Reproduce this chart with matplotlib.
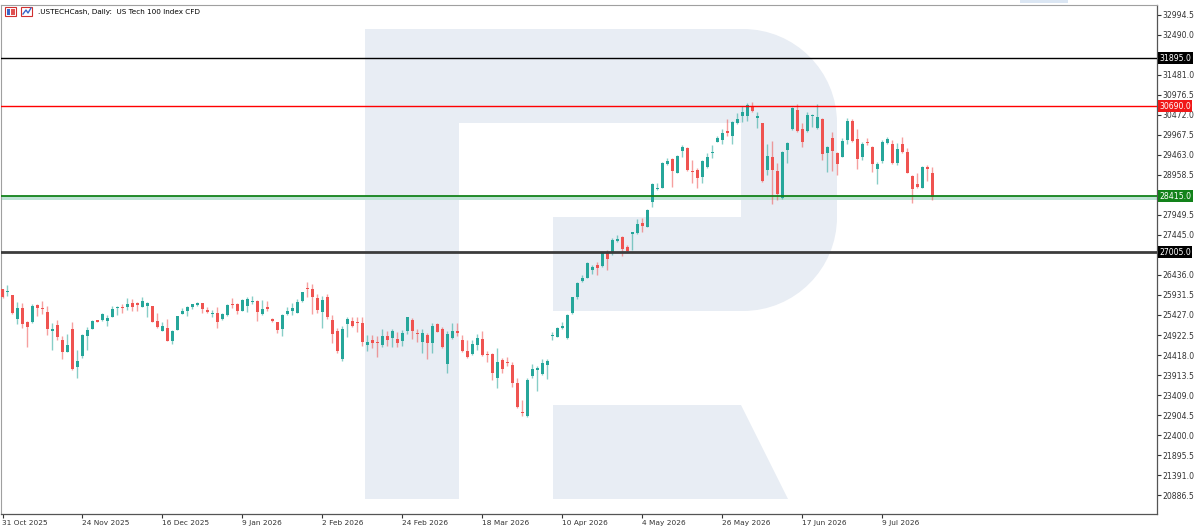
"""
Grafico diario .USTECHCash (velas) con niveles horizontales, estilo terminal MT5
"""
import numpy as np
import matplotlib.pyplot as plt
from matplotlib.path import Path
from matplotlib.patches import PathPatch, Polygon, Rectangle

# --- datos de velas ---
opens = [
    26074, 26015, 25931, 25326, 25612, 25259, 25242, 25679, 25612, 25511,
    25032, 25175, 24797, 24503, 25074, 24125, 24394, 24906, 25074, 25301,
    25301, 25284, 25385, 25603, 25620, 25620, 25738, 25721, 25637, 25662,
    25654, 25276, 25032, 25108, 24780, 25049, 25452, 25536, 25637, 25687,
    25721, 25553, 25444, 25486, 25318, 25427, 25704, 25704, 25536, 25654,
    25746, 25788, 25452, 25637, 25318, 25242, 25074, 25444, 25536, 25486,
    25788, 26116, 26074, 25847, 25511, 25889, 25301, 25032, 24318, 25192,
    25276, 25242, 25217, 24671, 24797, 24755, 24671, 24898, 24839, 24822,
    24780, 25024, 25301, 24982, 24755, 24923, 24730, 25200, 25066, 24192,
    24856, 25024, 24797, 24528, 24436, 24671, 24814, 24444, 24436, 23831,
    24293, 24234, 24167, 23722, 22991, 22890, 23890, 24041, 23940, 24167,
    24898, 24881, 25091, 24839, 25469, 25889, 26292, 26368, 26561, 26687,
    26662, 27006, 26981, 27300, 27401, 27149, 27460, 27502, 27737, 27653,
    28283, 28594, 28636, 29232, 29350, 29014, 29568, 29644, 29056, 29081,
    28896, 29148, 29501, 29795, 29837, 30064, 29946, 30257, 30450, 30450,
    30702, 30383, 30257, 29081, 29417, 29064, 28367, 29585, 30106, 30593,
    30106, 30064, 30450, 30131, 30358, 29518, 29879, 29501, 29417, 29837,
    30324, 29854, 29417, 29795, 29669, 29106, 29316, 29753, 29736, 29249,
    29728, 29526, 28938, 28728, 28636, 29148, 29014,
]
highs = [
    26080, 26183, 25940, 25763, 25738, 25276, 25696, 25696, 25780, 25662,
    25234, 25301, 24898, 24948, 25259, 24545, 24948, 25133, 25301, 25310,
    25469, 25427, 25662, 25662, 25696, 25864, 25830, 25746, 25872, 25763,
    25662, 25469, 25259, 25318, 25049, 25410, 25612, 25654, 25713, 25755,
    25730, 25637, 25553, 25637, 25469, 25696, 25847, 25721, 25830, 25889,
    25906, 25805, 25805, 25780, 25343, 25259, 25444, 25637, 25738, 25830,
    26015, 26250, 26200, 25948, 25906, 25948, 25427, 25091, 25150, 25385,
    25385, 25385, 25385, 24923, 24923, 24898, 25066, 25032, 25066, 25007,
    25049, 25385, 25343, 25066, 25066, 24965, 25217, 25217, 25133, 25032,
    25217, 25217, 24923, 24797, 24797, 24948, 25024, 24528, 24461, 24604,
    24335, 24360, 24251, 23831, 23285, 23831, 24184, 24142, 24318, 24310,
    25007, 25133, 25259, 25452, 25889, 26267, 26435, 26771, 26687, 26771,
    27023, 27065, 27359, 27443, 27418, 27191, 27527, 27838, 27863, 28090,
    28745, 28745, 29291, 29375, 29375, 29459, 29711, 29652, 29333, 29123,
    29333, 29501, 29711, 29938, 30106, 30358, 30316, 30509, 30694, 30761,
    30803, 30551, 30274, 29736, 29820, 29249, 29568, 29795, 30660, 30744,
    30257, 30551, 30484, 30744, 30383, 29686, 30030, 29543, 29896, 30383,
    30358, 30114, 29795, 29879, 29686, 29291, 29837, 29904, 29837, 29753,
    29904, 29644, 28955, 29014, 29182, 29207, 29148,
]
lows = [
    25865, 25914, 25452, 25200, 25108, 24629, 25234, 25402, 25444, 24923,
    24545, 24797, 24310, 24486, 24041, 23848, 24335, 24545, 25066, 25251,
    25284, 25158, 25368, 25427, 25469, 25553, 25536, 25528, 25630, 25368,
    25242, 25108, 25024, 24772, 24696, 25040, 25444, 25410, 25578, 25654,
    25486, 25486, 25385, 25099, 25301, 25410, 25595, 25444, 25528, 25494,
    25696, 25284, 25427, 25536, 25242, 24965, 24906, 25427, 25427, 25469,
    25763, 25889, 25444, 25469, 25091, 25326, 24713, 24461, 24268, 24881,
    25133, 25007, 24646, 24520, 24604, 24377, 24612, 24646, 24612, 24629,
    24646, 24948, 24822, 24755, 24461, 24318, 24461, 24990, 24587, 23974,
    24814, 24906, 24503, 24352, 24419, 24545, 24402, 24251, 23789, 23579,
    23957, 24142, 23604, 23092, 22882, 22865, 23831, 23512, 23915, 23814,
    24797, 24864, 25074, 24822, 25452, 25822, 26267, 26351, 26460, 26435,
    26645, 26561, 26939, 27275, 26914, 27023, 27065, 27468, 27527, 27636,
    28157, 28577, 28619, 29207, 28661, 28997, 29400, 29056, 28762, 28619,
    28745, 29123, 29392, 29778, 29728, 29946, 29736, 30232, 30299, 30324,
    30551, 30131, 28787, 28955, 28216, 28325, 28350, 29249, 30089, 30047,
    29669, 30047, 30173, 30114, 29333, 29039, 29064, 28955, 29400, 29736,
    29795, 29106, 29333, 29711, 29039, 28720, 29266, 29728, 29232, 29207,
    29518, 28997, 28258, 28619, 28619, 28812, 28325,
]
closes = [
    25872, 26040, 25469, 25612, 25200, 25116, 25662, 25612, 25570, 25083,
    25066, 24864, 24503, 24671, 24058, 24268, 24923, 25049, 25284, 25259,
    25452, 25360, 25570, 25637, 25595, 25704, 25637, 25671, 25788, 25738,
    25259, 25133, 25150, 24780, 25024, 25402, 25528, 25637, 25696, 25721,
    25570, 25511, 25469, 25242, 25444, 25679, 25687, 25536, 25805, 25830,
    25780, 25494, 25578, 25570, 25284, 25049, 25427, 25528, 25595, 25763,
    25998, 26091, 25889, 25553, 25805, 25368, 24948, 24528, 25066, 25326,
    25158, 25217, 24738, 24755, 24713, 24730, 24898, 24797, 25032, 24730,
    24982, 25368, 25032, 24948, 24982, 24730, 25150, 25007, 24612, 24948,
    25024, 24965, 24520, 24360, 24696, 24839, 24419, 24419, 23957, 24251,
    24066, 24209, 23722, 23117, 22949, 23789, 24058, 24083, 24209, 24268,
    24915, 25108, 25150, 25427, 25872, 26225, 26351, 26729, 26645, 26620,
    27006, 26838, 27317, 27342, 27082, 27040, 27510, 27720, 27670, 28073,
    28720, 28636, 29266, 29316, 29056, 29442, 29652, 29081, 29022, 28871,
    29316, 29417, 29535, 29896, 30022, 30005, 30299, 30358, 30543, 30719,
    30576, 30442, 28804, 29434, 29081, 28476, 29543, 29770, 30635, 30064,
    29778, 30467, 30467, 30408, 29484, 29669, 29568, 29232, 29820, 30316,
    29820, 29350, 29736, 29770, 29232, 29232, 29778, 29862, 29266, 29610,
    29543, 29014, 28594, 28644, 29165, 29106, 28409,
]

# etiquetas del eje temporal (cada 16 velas)
date_labels = ['31 Oct 2025', '24 Nov 2025', '16 Dec 2025', '9 Jan 2026',
               '2 Feb 2026', '24 Feb 2026', '18 Mar 2026', '10 Apr 2026',
               '4 May 2026', '26 May 2026', '17 Jun 2026', '9 Jul 2026']
date_step = 16

# niveles horizontales
level_values = [31895.0, 30690.0, 28415.0, 27005.0]
level_colors = ['#000000', '#ff0000', '#12821a', '#3c3c3c']
level_widths = [1.0, 1.0, 1.3, 2.0]
level_boxes = ['#000000', '#f01818', '#12821a', '#000000']

title = '.USTECHCash, Daily:  US Tech 100 Index CFD'

W, H = 1200, 529
fig = plt.figure(figsize=(W / 100, H / 100), dpi=100)
fig.patch.set_facecolor('white')

# --- fondo con el logo (coordenadas en pixeles) ---
bg = fig.add_axes([0, 0, 1, 1], zorder=0)
bg.set_xlim(0, W)
bg.set_ylim(H, 0)
bg.axis('off')
logo_c = '#e8edf4'
k = 0.5523 * 94
verts = [(365, 29), (743, 29),
         (743 + k, 29), (837, 123 - k), (837, 123),
         (837, 217),
         (837, 217 + k), (743 + k, 311), (743, 311),
         (553, 311), (553, 217), (741, 217), (741, 123),
         (459, 123), (459, 499), (365, 499), (365, 29)]
codes = [Path.MOVETO, Path.LINETO,
         Path.CURVE4, Path.CURVE4, Path.CURVE4,
         Path.LINETO,
         Path.CURVE4, Path.CURVE4, Path.CURVE4,
         Path.LINETO, Path.LINETO, Path.LINETO, Path.LINETO,
         Path.LINETO, Path.LINETO, Path.LINETO, Path.CLOSEPOLY]
bg.add_patch(PathPatch(Path(verts, codes), fc=logo_c, ec='none'))
bg.add_patch(Polygon([(553, 405), (741, 405), (788, 499), (553, 499)],
                     closed=True, fc=logo_c, ec='none'))

# pestañas superiores e iconos del titulo
bg.add_patch(Rectangle((1020, 0), 48, 3, fc='#dbe6f3', ec='none'))
bg.add_patch(Rectangle((5, 7), 11, 9, fc='white', ec='#d03030', lw=0.8))
bg.add_patch(Rectangle((6.5, 9), 3.5, 5.5, fc='#3a66c8', ec='none'))
bg.add_patch(Rectangle((11, 9), 3.5, 5.5, fc='#e05050', ec='none'))
bg.add_patch(Rectangle((21, 7), 11, 9, fc='white', ec='#d03030', lw=0.8))
bg.plot([23, 26, 28, 31], [14, 10, 13, 8], color='#3a66c8', lw=1.0)
bg.text(38, 12, title, fontsize=5.2, va='center', ha='left', color='black')

# --- grafico principal ---
ax = fig.add_axes([1 / W, 15 / H, 1156 / W, 509 / H], zorder=1)
ax.set_facecolor('none')

x = np.arange(len(opens))
o = np.array(opens, float)
h = np.array(highs, float)
l = np.array(lows, float)
c = np.array(closes, float)
up = c >= o

bull, bear = '#26a69a', '#ef5350'
ax.vlines(x[up], l[up], h[up], color=bull, alpha=0.55, lw=1.0, zorder=3)
ax.vlines(x[~up], l[~up], h[~up], color=bear, alpha=0.55, lw=1.0, zorder=3)
body = np.maximum(np.abs(c - o), 25)
ax.bar(x[up], body[up], bottom=np.minimum(o, c)[up], width=0.64,
       color=bull, zorder=4)
ax.bar(x[~up], body[~up], bottom=np.minimum(o, c)[~up], width=0.64,
       color=bear, zorder=4)

# niveles
ax.axhspan(level_values[2] - 95, level_values[2], color='#bfe3d6', lw=0, zorder=2)
for val, col, lw in zip(level_values, level_colors, level_widths):
    ax.axhline(val, color=col, lw=lw, zorder=5)

ax.set_xlim(-0.3, 230.9)
ax.set_ylim(20412, 33239)

# eje Y a la derecha (las etiquetas tapadas por los niveles no se escriben)
yticks = 20886.5 + 504.5 * np.arange(25)
ylabels = ['' if min(abs(v - lv) for lv in level_values) < 150 else f'{v:.1f}'
           for v in yticks]
ax.yaxis.tick_right()
ax.set_yticks(yticks)
ax.set_yticklabels(ylabels)
ax.tick_params(axis='y', direction='out', length=3, pad=1, labelsize=5.6,
               colors='#333333')

for val, box in zip(level_values, level_boxes):
    ax.text(1.0018, val, f'{val:.1f}', transform=ax.get_yaxis_transform(),
            ha='left', va='center', fontsize=5.6, color='white', zorder=10,
            bbox=dict(boxstyle='square,pad=0.2', fc=box, ec='none'),
            clip_on=False)

# eje X
xticks = np.arange(len(date_labels)) * date_step
ax.set_xticks(xticks)
ax.set_xticklabels(date_labels)
for lab in ax.get_xticklabels():
    lab.set_horizontalalignment('left')
ax.tick_params(axis='x', direction='out', length=3, pad=1, labelsize=5.3,
               colors='#333333')

for side in ['left', 'top']:
    ax.spines[side].set_color('#a0a0a0')
    ax.spines[side].set_linewidth(0.8)
for side in ['right', 'bottom']:
    ax.spines[side].set_color('#555555')
    ax.spines[side].set_linewidth(0.9)

plt.savefig('out.png', dpi=100)
